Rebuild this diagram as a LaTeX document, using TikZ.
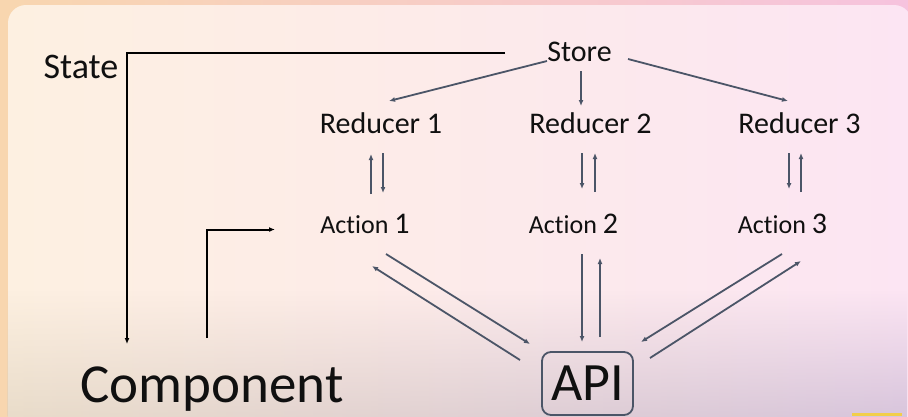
\documentclass[tikz,border=0pt]{standalone}
\usepackage{fontspec}
\setmainfont{Carlito}[Ligatures=NoCommon]
\usetikzlibrary{arrows.meta,fadings}
\definecolor{slate}{HTML}{4B5567}
\definecolor{ink}{HTML}{101010}
\definecolor{outL}{HTML}{F8D6AF}
\definecolor{outR}{HTML}{F6C3DE}
\definecolor{inL}{HTML}{FDF0E1}
\definecolor{inR}{HTML}{FCE5F3}
\definecolor{botL}{RGB}{220,207,187}
\definecolor{botR}{RGB}{192,176,205}
\definecolor{ytab}{HTML}{F2CE4A}
\tikzfading[name=fadeup, top color=transparent!100, bottom color=transparent!40]
\begin{document}
\begin{tikzpicture}[x=1pt,y=-1pt,
  lbl/.style={anchor=base, inner sep=0pt, text=ink},
  flow/.style={draw=slate, line width=1.8pt, -{Latex[length=6pt,width=5pt]}},
  blk/.style={draw=black, line width=2pt, -{Latex[length=6pt,width=5pt]}}]
\useasboundingbox (0,0) rectangle (908,416);
% background
\shade[left color=outL, right color=outR] (0,0) rectangle (908,416);
\shade[left color=inL, right color=inR, rounded corners=18pt] (8,5) rectangle (912,480);
\begin{scope}
\shade[left color=botL, right color=botR, path fading=fadeup] (8,290) rectangle (908,416);
\end{scope}
\path[fill=ytab] (852,413) rectangle (902,416);
% labels
\node[lbl, font=\fontsize{30}{36}\selectfont] (store) at (579.5,61) {Store};
\node[lbl, font=\fontsize{30}{36}\selectfont] (r1) at (381,133) {Reducer 1};
\node[lbl, font=\fontsize{30}{36}\selectfont] (r2) at (590.5,133) {Reducer 2};
\node[lbl, font=\fontsize{30}{36}\selectfont] (r3) at (799.5,133) {Reducer 3};
\node[lbl, font=\fontsize{26}{30}\selectfont] (a1) at (365,233) {Action {\fontsize{30}{36}\selectfont 1}};
\node[lbl, font=\fontsize{26}{30}\selectfont] (a2) at (573.5,233) {Action {\fontsize{30}{36}\selectfont 2}};
\node[lbl, font=\fontsize{26}{30}\selectfont] (a3) at (782.5,233) {Action {\fontsize{30}{36}\selectfont 3}};
\node[lbl, font=\fontsize{36}{42}\selectfont] (state) at (81,78) {State};
\node[lbl, font=\fontsize{55}{62}\selectfont] (comp) at (212,402) {Component};
\node[draw=slate, line width=1.8pt, rounded corners=9pt, minimum width=91pt, minimum height=63pt,
      inner sep=0pt, text=ink, font=\fontsize{54}{60}\selectfont] (api) at (587.5,383.5) {API};
% store to reducers
\draw[flow] ([shift={(-32.5,0)}]store.base) -- ([shift={(8,-32)}]r1.base);
\draw[flow] ([shift={(1.5,10)}]store.base) -- ([shift={(-9.5,-27)}]r2.base);
\draw[flow] ([shift={(48.5,-2)}]store.base) -- ([shift={(-11.5,-32)}]r3.base);
% reducers <-> actions
\draw[flow] ([shift={(6,-39)}]a1.base) -- ([shift={(-10,21)}]r1.base);
\draw[flow] ([shift={(2,20)}]r1.base) -- ([shift={(18,-40)}]a1.base);
\draw[flow] ([shift={(-8.5,20)}]r2.base) -- ([shift={(8.5,-44)}]a2.base);
\draw[flow] ([shift={(21.5,-41)}]a2.base) -- ([shift={(4.5,20)}]r2.base);
\draw[flow] ([shift={(-10.5,20)}]r3.base) -- ([shift={(6.5,-44)}]a3.base);
\draw[flow] ([shift={(18.5,-41)}]a3.base) -- ([shift={(1.5,20)}]r3.base);
% actions <-> API
\draw[flow] ([shift={(21,21)}]a1.base) -- ([shift={(-57.5,-39.5)}]api.center);
\draw[flow] ([shift={(-67.5,-23.5)}]api.center) -- ([shift={(7,33)}]a1.base);
\draw[flow] ([shift={(8.5,21)}]a2.base) -- ([shift={(-5.5,-41.5)}]api.center);
\draw[flow] ([shift={(12.5,-46.5)}]api.center) -- ([shift={(26.5,25)}]a2.base);
\draw[flow] ([shift={(-0.5,21)}]a3.base) -- ([shift={(53.5,-41.5)}]api.center);
\draw[flow] ([shift={(62.5,-25.5)}]api.center) -- ([shift={(18.5,28)}]a3.base);
% state and component
\draw[blk] ([shift={(-74.5,-8)}]store.base) -| ([shift={(-85,-58)}]comp.base);
\draw[blk] ([shift={(-5.5,-64)}]comp.base) |- ([shift={(-90,-3.5)}]a1.base);
\end{tikzpicture}
\end{document}
